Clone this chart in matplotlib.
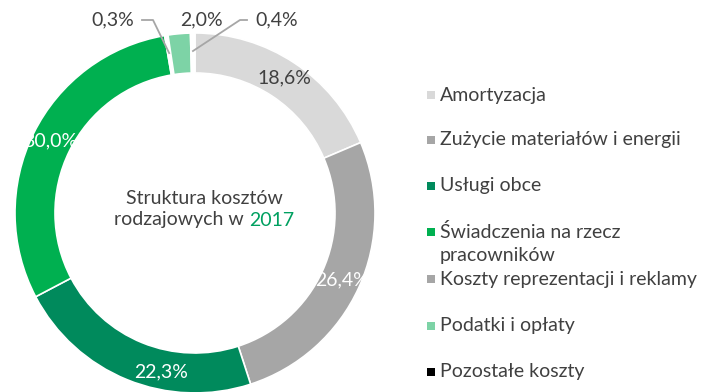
import matplotlib
matplotlib.use('Agg')
import matplotlib.pyplot as plt
import numpy as np

plt.rcParams['font.family'] = ['Lato', 'DejaVu Sans']

# Struktura kosztów rodzajowych 2017 (%)
categories = ['Amortyzacja', 'Zużycie materiałów i energii', 'Usługi obce',
              'Świadczenia na rzecz\npracowników', 'Koszty reprezentacji i reklamy',
              'Podatki i opłaty', 'Pozostałe koszty']
values = [18.6, 26.4, 22.3, 30.0, 0.3, 2.0, 0.4]
colors = ['#D9D9D9', '#A6A6A6', '#008A5C', '#00B050', '#A6A6A6', '#7DD3A6', '#000000']
label_colors = ['#404040', 'white', 'white', 'white', '#404040', '#404040', '#404040']
year = '2017'

W, H = 702, 392
R = 180.0          # outer radius in px
RING = 40.0        # ring thickness in px
CX, CY = 195, 213  # donut centre in px
TXT = '#404040'
FS = 14

# (radius, angle shift in deg) for ring labels that sit near the figure edge
label_nudge = {2: (0.9, 10.0)}


def px(x, y):
    # pixel position (from top-left) -> data coords of the full-figure axes
    return (x - CX) / R, (CY - y) / R


fig = plt.figure(figsize=(W / 100, H / 100), dpi=100)
ax = fig.add_axes([0, 0, 1, 1])

wedges, _ = ax.pie(values, colors=colors, startangle=90, counterclock=False,
                   radius=1.0, wedgeprops=dict(width=RING / R, edgecolor='white', linewidth=1.2))
# the tiny slices vanish under the white separators
for w, v in zip(wedges, values):
    if v < 1:
        w.set_facecolor('white')

ax.set_xlim(-CX / R, (W - CX) / R)
ax.set_ylim((CY - H) / R, CY / R)
ax.axis('off')


def fmt(v):
    return f'{v:.1f}'.replace('.', ',') + '%'


# labels on the ring for the big slices
for i, (w, v, c) in enumerate(zip(wedges, values, label_colors)):
    if v < 5:
        continue
    r, shift = label_nudge.get(i, (0.9, 0.0))
    ang = np.deg2rad((w.theta1 + w.theta2) / 2 + shift)
    ax.text(r * np.cos(ang), r * np.sin(ang), fmt(v), color=c, fontsize=FS,
            ha='center', va='center')

# small slices: labels above the ring
i03, i20, i04 = 4, 5, 6
ly = px(0, 20)[1]


def slice_point(w, r=0.9):
    ang = np.deg2rad((w.theta1 + w.theta2) / 2)
    return r * np.cos(ang), r * np.sin(ang)


ax.text(px(134, 0)[0], ly, fmt(values[i03]), color=TXT, fontsize=FS, ha='right', va='center')
sx, sy = slice_point(wedges[i03])
ax.plot([px(142, 0)[0], px(153, 0)[0], sx], [ly, ly, sy], color='#A6A6A6', lw=1.3)

ax.text(px(201, 0)[0], ly, fmt(values[i20]), color=TXT, fontsize=FS, ha='center', va='center')

ax.text(px(255, 0)[0], ly, fmt(values[i04]), color=TXT, fontsize=FS, ha='left', va='center')
sx, sy = slice_point(wedges[i04])
ax.plot([px(247, 0)[0], px(240, 0)[0], sx], [ly, ly, sy], color='#A6A6A6', lw=1.3)

# centre title, year in green
cx, cy1 = px(204, 198)
ax.text(cx, cy1, 'Struktura kosztów', color=TXT, fontsize=FS, ha='center', va='center')
cy2 = px(0, 220)[1]
full = ax.text(cx, cy2, 'rodzajowych w ' + year, color=TXT, fontsize=FS, ha='center', va='center')
fig.canvas.draw()
bb = full.get_window_extent().transformed(ax.transData.inverted())
full.remove()
ax.text(bb.x0, cy2, 'rodzajowych w ', color=TXT, fontsize=FS, ha='left', va='center')
ax.text(bb.x1, cy2, year, color='#00A060', fontsize=FS, ha='right', va='center')

# legend
leg_y = [95, 140, 186, 232, 279, 326, 372]
for lab, col, y in zip(categories, colors, leg_y):
    mx, my = px(431, y)
    ax.scatter([mx], [my], marker='s', s=28, color=col, linewidths=0)
    tx, _ = px(440, y)
    first = lab.split('\n')
    ax.text(tx, my, first[0], color=TXT, fontsize=FS, ha='left', va='center')
    if len(first) > 1:
        ax.text(tx, px(0, y + 23)[1], first[1], color=TXT, fontsize=FS, ha='left', va='center')

fig.savefig('out.png', dpi=100)
